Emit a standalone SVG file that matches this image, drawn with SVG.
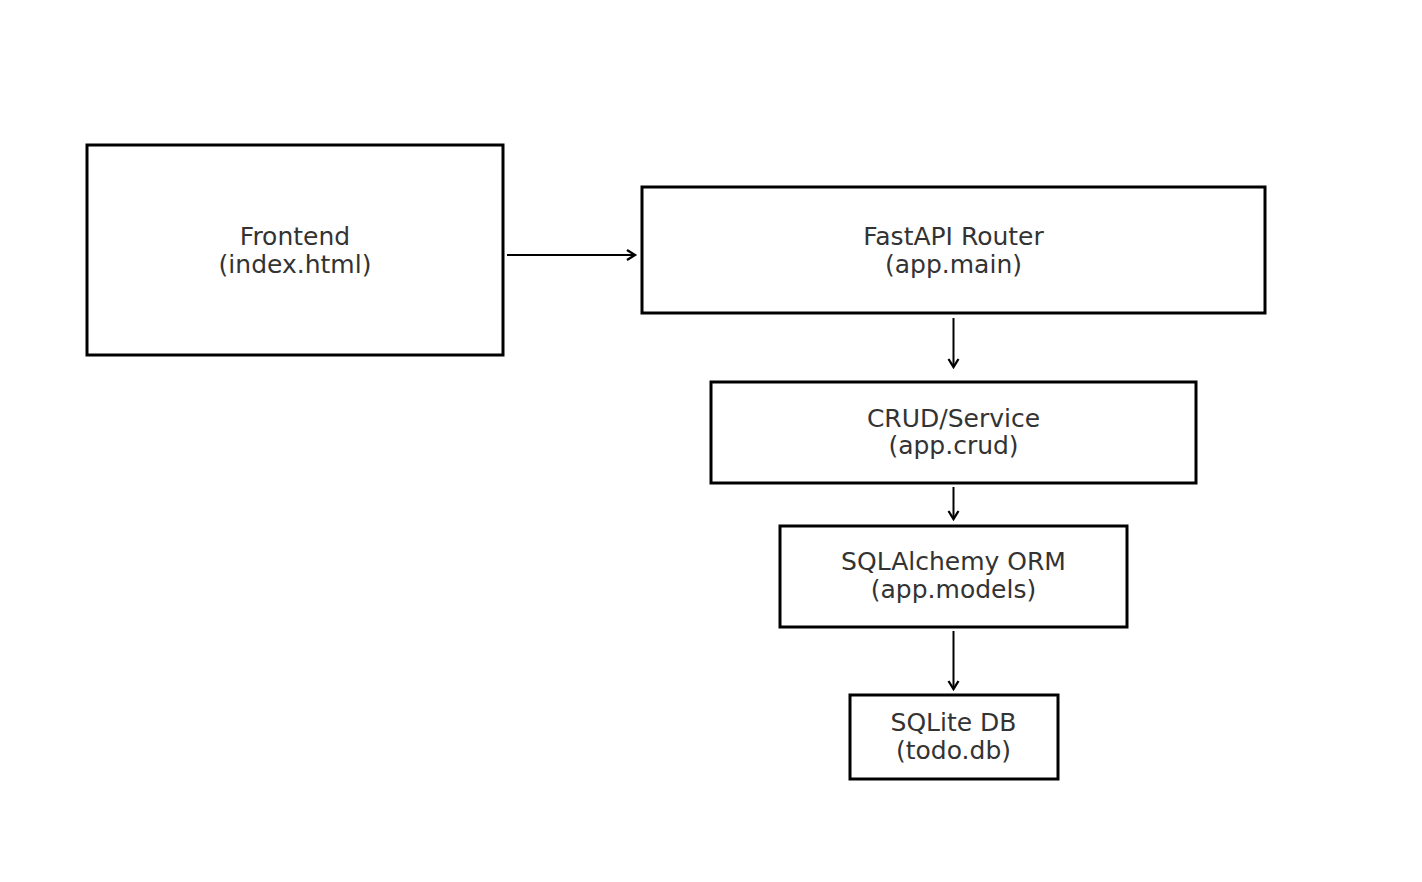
<svg xmlns="http://www.w3.org/2000/svg" width="1422" height="882" viewBox="0 0 1422 882">
<style>
.box{fill:#fff;stroke:#000;stroke-width:3}
.t{font-family:"DejaVu Sans",sans-serif;font-size:25px;fill:#333;text-anchor:middle}
.c{stroke:#000;stroke-width:2;fill:none;marker-end:url(#ah)}
</style>
<defs>
<marker id="ah" markerWidth="14" markerHeight="14" refX="11" refY="7" orient="auto" markerUnits="userSpaceOnUse">
<path d="M3,2 L11,7 L3,12" fill="none" stroke="#000" stroke-width="2.3"/>
</marker>
</defs>
<rect width="1422" height="882" fill="#fff"/>
<g id="connectors">
<line class="c" x1="507" y1="255" x2="635" y2="255"/>
<line class="c" x1="953.5" y1="318" x2="953.5" y2="367"/>
<line class="c" x1="953.5" y1="487" x2="953.5" y2="519"/>
<line class="c" x1="953.5" y1="631" x2="953.5" y2="689"/>
</g>
<g id="frontend">
<rect class="box" x="87" y="145" width="416" height="210"/>
<text class="t" x="295" y="245">Frontend</text>
<text class="t" x="295" y="273">(index.html)</text>
</g>
<g id="fastapi">
<rect class="box" x="642" y="187" width="623" height="126"/>
<text class="t" x="953.5" y="245">FastAPI Router</text>
<text class="t" x="953.5" y="273">(app.main)</text>
</g>
<g id="crud">
<rect class="box" x="711" y="382" width="485" height="101"/>
<text class="t" x="953.5" y="427">CRUD/Service</text>
<text class="t" x="953.5" y="454">(app.crud)</text>
</g>
<g id="orm">
<rect class="box" x="780" y="526" width="347" height="101"/>
<text class="t" x="953.5" y="570">SQLAlchemy ORM</text>
<text class="t" x="953.5" y="598">(app.models)</text>
</g>
<g id="sqlite">
<rect class="box" x="850" y="695" width="208" height="84"/>
<text class="t" x="953.5" y="731">SQLite DB</text>
<text class="t" x="953.5" y="759">(todo.db)</text>
</g>
</svg>
